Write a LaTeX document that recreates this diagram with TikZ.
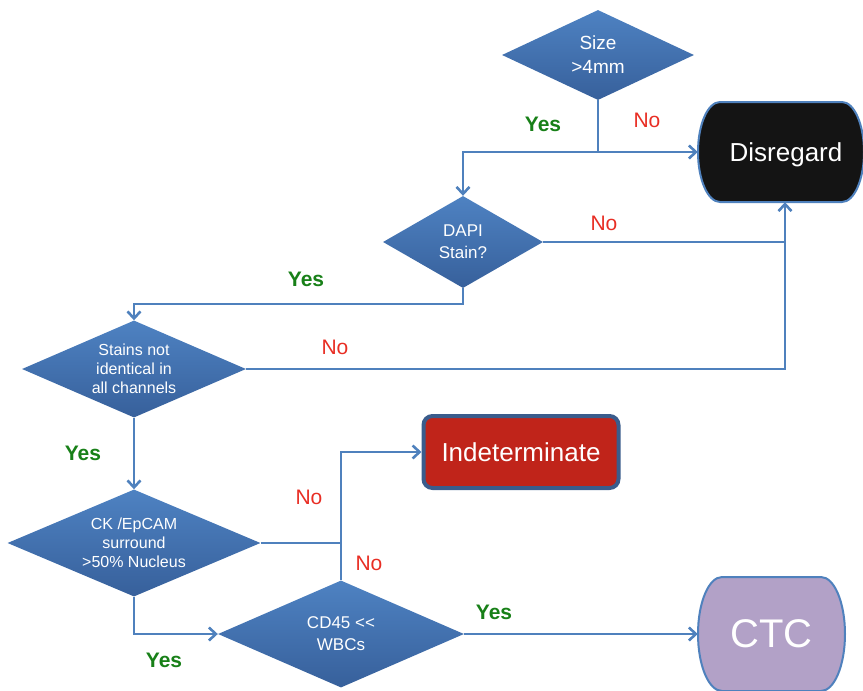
\documentclass[tikz,border=0pt]{standalone}
\usepackage{fontspec}
\setmainfont{Liberation Sans}
\usepackage{xcolor}
\usetikzlibrary{arrows.meta, positioning, shapes.geometric}

\definecolor{flowblue}{RGB}{79,129,189}
\definecolor{testtop}{RGB}{78,130,194}
\definecolor{testbot}{RGB}{55,96,155}
\definecolor{yesgreen}{RGB}{24,128,24}
\definecolor{nored}{RGB}{232,46,36}
\definecolor{indred}{RGB}{192,36,26}
\definecolor{indedge}{RGB}{58,92,140}
\definecolor{ctcfill}{RGB}{178,161,199}

% terminator outline: centre x, centre y, half width, half height, end radius, fill
\newcommand{\termshape}[6]{%
  \filldraw[draw=flowblue, line width=2pt, fill=#6]
    (#1-#3+#5,#2-#4) arc[start angle=270, end angle=90, x radius=#5, y radius=#4]
    -- (#1+#3-#5,#2+#4) arc[start angle=90, end angle=-90, x radius=#5, y radius=#4]
    -- cycle;}

\tikzset{
  test/.style={diamond, inner sep=0pt, top color=testtop, bottom color=testbot,
    text=white, align=center, font=\fontsize{16}{19}\selectfont},
  terminal/.style={rectangle, inner sep=0pt, text=white, text depth=0pt},
  wire/.style={draw=flowblue, line width=2.6pt},
  yes/.style={text=yesgreen, font=\fontsize{21}{25}\selectfont\bfseries},
  no/.style={text=nored, font=\fontsize{21}{25}\selectfont},
}

\begin{document}
\begin{tikzpicture}[x=1pt, y=-1pt, >={Straight Barb[length=7pt,width=13pt]}]
  \useasboundingbox (0,0) rectangle (863,691);

  % decisions
  \node[test, aspect=2.13, minimum width=192pt, minimum height=90pt, font=\fontsize{19}{24}\selectfont] (size) at (598,55) {Size\\>4mm};
  \node[test, aspect=1.74, minimum width=160pt, minimum height=92pt, font=\fontsize{17}{22}\selectfont] (dapi) at (463,242) {DAPI\\Stain?};
  \node[test, aspect=2.31, minimum width=224pt, minimum height=97pt] (stains) at (134,369) {Stains not\\identical in\\all channels};
  \node[test, aspect=2.36, minimum width=253pt, minimum height=107pt] (ck) at (134,543) {CK /EpCAM\\surround\\>50\% Nucleus};
  \node[test, aspect=2.3, minimum width=246pt, minimum height=107pt, font=\fontsize{17}{22}\selectfont] (cd) at (341,634) {CD45 <{}<\\WBCs};

  % outcomes
  \termshape{781}{152}{83}{50}{22}{black!92}
  \node[terminal, text height=19pt, minimum width=166pt, minimum height=100pt, font=\fontsize{26}{30}\selectfont] (disregard) at (781,152) {\hspace*{10pt}Disregard};
  \node[rectangle, rounded corners=9pt, fill=indred, draw=indedge, line width=4pt, text=white,
    minimum width=195pt, minimum height=72pt, font=\fontsize{26}{30}\selectfont] (indet) at (521,452) {Indeterminate};
  \termshape{771.5}{634}{73.5}{57}{24}{ctcfill}
  \node[terminal, minimum width=147pt, minimum height=114pt, font=\fontsize{40}{46}\selectfont] (ctc) at (771.5,634) {CTC};

  % joints
  \coordinate (j1) at (598,152);
  \coordinate (j2) at (785,242);
  \coordinate (j3) at (463,304);
  \coordinate (j4) at (341,543);

  % connectors
  \draw[wire] (size) -- (j1);
  \draw[wire, ->] (j1) -- (disregard.west);
  \draw[wire, ->] (j1) -| (dapi.north);
  \draw[wire, ->] (dapi.east) -| (disregard.south -| j2);
  \draw[wire, ->] (dapi.south) -- (j3) -| (stains.north);
  \draw[wire] (stains.east) -| (j2);
  \draw[wire, ->] (stains.south) -- (ck.north);
  \draw[wire, ->] (ck.east) -- (j4) |- (indet.west);
  \draw[wire] (cd.north) -- (j4);
  \draw[wire, ->] (ck.south) |- (cd.west);
  \draw[wire, ->] (cd.east) -- (ctc.west);

  % answers
  \node[yes] (y1) at (543,124) {Yes};
  \node[no] (n1) at (647,120) {No};
  \node[no] (n2) at (604,223) {No};
  \node[yes] (y2) at (306,279) {Yes};
  \node[no] (n3) at (335,347) {No};
  \node[yes] (y3) at (83,453) {Yes};
  \node[no] (n4) at (309,497) {No};
  \node[no] (n5) at (369,563) {No};
  \node[yes] (y4) at (164,660) {Yes};
  \node[yes] (y5) at (494,612) {Yes};
\end{tikzpicture}
\end{document}
